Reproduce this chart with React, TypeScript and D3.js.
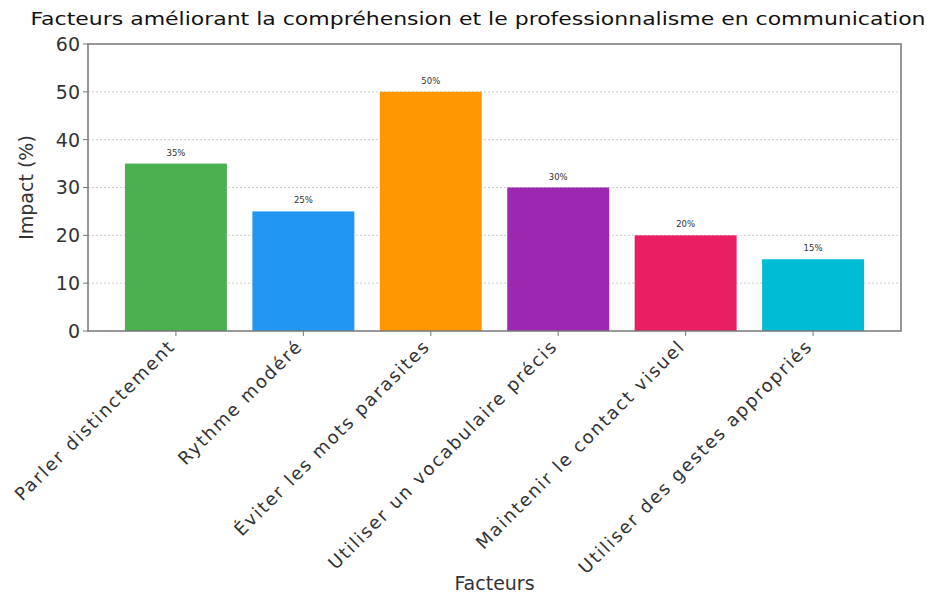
import React from "react";
import * as d3 from "d3";

const categories = [
  "Parler distinctement",
  "Rythme modéré",
  "Éviter les mots parasites",
  "Utiliser un vocabulaire précis",
  "Maintenir le contact visuel",
  "Utiliser des gestes appropriés",
];
const values = [35, 25, 50, 30, 20, 15];
const colors = ["#4CAF50", "#2196F3", "#FF9800", "#9C27B0", "#E91E63", "#00BCD4"];
const yTicks = [0, 10, 20, 30, 40, 50, 60];

const W = 929;
const H = 599;
const M = { left: 88, right: 901, top: 44, bottom: 331 };
const FONT = "'DejaVu Sans', 'Open Sans', sans-serif";

export default function App() {
  const x = d3.scaleLinear().domain([-0.69, 5.69]).range([M.left, M.right]);
  const y = d3.scaleLinear().domain([0, 60]).range([M.bottom, M.top]);
  const bw = x(0.4) - x(-0.4);

  return (
    <svg width={W} height={H} style={{ position: "absolute", left: 0, top: 0, background: "#fff" }} fontFamily={FONT}>
      <text x={478} y={25} textAnchor="middle" fontSize={18} fill="#111" textLength={895} lengthAdjust="spacingAndGlyphs">
        Facteurs améliorant la compréhension et le professionnalisme en communication
      </text>
      {yTicks.filter((t) => t > 0 && t < 60).map((t) => (
        <line key={"g" + t} x1={M.left} x2={M.right} y1={y(t)} y2={y(t)} stroke="#ccc" strokeWidth={1} strokeDasharray="2,2" />
      ))}
      {values.map((v, i) => (
        <g key={i}>
          <rect x={x(i) - bw / 2} y={y(v)} width={bw} height={y(0) - y(v)} fill={colors[i]} />
          <text x={x(i)} y={y(v) - 8} textAnchor="middle" fontSize={8.5} fill="#333">
            {v}%
          </text>
        </g>
      ))}
      <rect x={M.left} y={M.top} width={M.right - M.left} height={M.bottom - M.top} fill="none" stroke="#777" strokeWidth={1.5} />
      {yTicks.map((t) => (
        <g key={"y" + t}>
          <line x1={M.left - 5} x2={M.left} y1={y(t)} y2={y(t)} stroke="#777" />
          <text x={M.left - 8} y={y(t)} dy="0.36em" textAnchor="end" fontSize={19} fill="#333">
            {t}
          </text>
        </g>
      ))}
      {categories.map((c, i) => (
        <g key={"x" + i}>
          <line x1={x(i)} x2={x(i)} y1={M.bottom} y2={M.bottom + 5} stroke="#777" />
          <text
            transform={`translate(${x(i) - 4},${M.bottom + 12}) rotate(-45)`}
            textAnchor="end"
            dy="0.35em"
            fontSize={18}
            letterSpacing={1.8}
            fill="#333"
          >
            {c}
          </text>
        </g>
      ))}
      <text transform={`translate(33,${(M.top + M.bottom) / 2}) rotate(-90)`} textAnchor="middle" fontSize={19} fill="#333">
        Impact (%)
      </text>
      <text x={(M.left + M.right) / 2} y={590} textAnchor="middle" fontSize={19} fill="#333">
        Facteurs
      </text>
    </svg>
  );
}
